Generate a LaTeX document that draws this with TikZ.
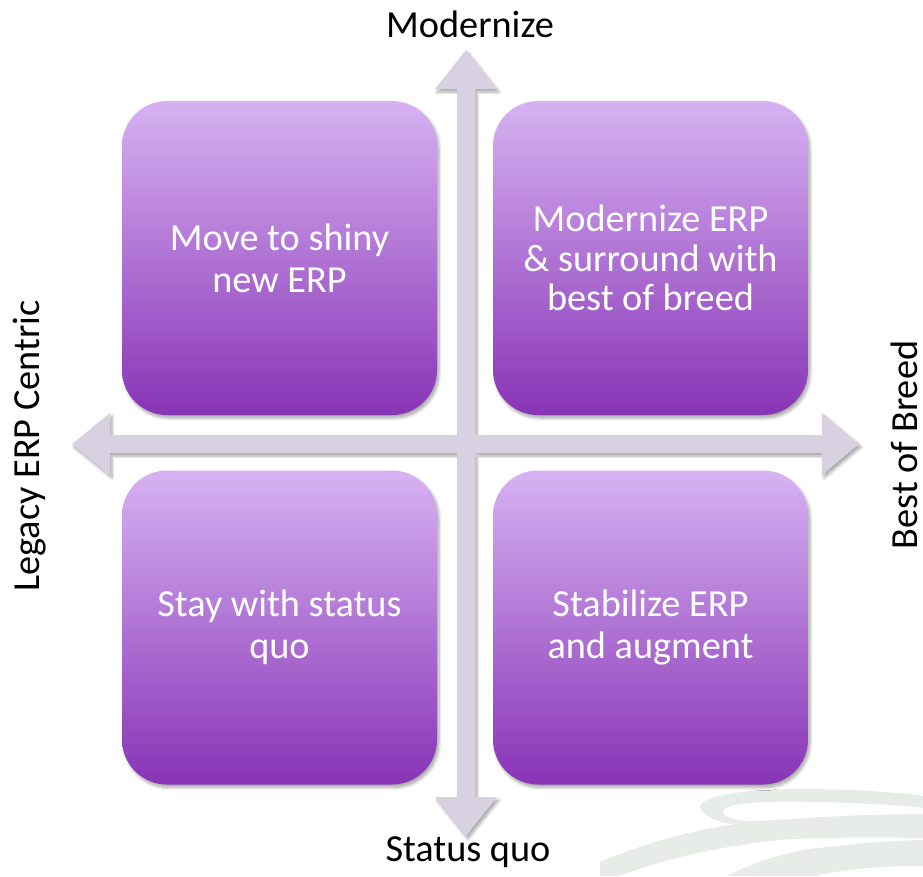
\documentclass[tikz,border=0pt]{standalone}
\usepackage{fontspec}
\setmainfont{Carlito}
\usetikzlibrary{shadows.blur}

\definecolor{quadtop}{RGB}{215,178,242}
\definecolor{quadbot}{RGB}{136,52,182}
\definecolor{axisfill}{RGB}{216,209,225}
\definecolor{swoosh}{RGB}{232,236,232}

\tikzset{
  softshadow/.style={blur shadow={shadow xshift=2pt, shadow yshift=-3pt,
      shadow blur radius=3pt, shadow blur steps=6, shadow opacity=35}},
  quad/.style={rounded corners=45pt, minimum width=315pt, minimum height=314pt,
      inner sep=0pt, top color=quadtop, bottom color=quadbot, text=white,
      align=center, font=\fontsize{38.3}{42}\selectfont, softshadow},
  axislabel/.style={font=\fontsize{38.3}{44}\selectfont, text=black,
      anchor=base, inner sep=0pt},
}

\begin{document}
\begin{tikzpicture}[x=1pt,y=-1pt]
\useasboundingbox (0,0) rectangle (923,876);

% faint logo swoosh in the lower right corner
\fill[swoosh, even odd rule]
  (702,811) .. controls (690,797) and (740,789) .. (800,789)
            .. controls (860,789) and (905,793) .. (923,796)
  -- (923,826) .. controls (860,822) and (790,828) .. (745,826)
            .. controls (725,824) and (710,820) .. (702,811) -- cycle
  (723,812) .. controls (722,802) and (770,801) .. (815,802)
            .. controls (860,803) and (900,805) .. (923,808)
  -- (923,815) .. controls (870,814) and (800,818) .. (760,821)
            .. controls (740,822) and (724,818) .. (723,812) -- cycle;
\fill[swoosh]
  (600,862) .. controls (640,845) and (690,830) .. (737,824)
            .. controls (800,817) and (880,814) .. (923,814)
  -- (923,838) .. controls (860,837) and (800,838) .. (780,840)
            .. controls (720,846) and (660,860) .. (620,876)
  -- (600,876) -- cycle;
\fill[swoosh]
  (727,876) .. controls (750,864) and (790,850) .. (818,848)
            .. controls (860,843) and (900,840) .. (923,840)
  -- (923,866) .. controls (890,866) and (850,868) .. (815,876) -- cycle;

% the two crossing axis arrows
\fill[axisfill, softshadow]
  (466,50) -- (497,89) -- (475,89) -- (475,797) -- (497,797) -- (466,836)
  -- (435,797) -- (457,797) -- (457,89) -- (435,89) -- cycle
  (72,444) -- (110,413) -- (110,435) -- (822,435) -- (822,413) -- (859,444)
  -- (822,475) -- (822,453) -- (110,453) -- (110,475) -- cycle;

% quadrants
\node[quad] (tl) at (279.5,258) {Move to shiny\\new ERP};
\node[quad, font=\fontsize{38.3}{39.5}\selectfont] (tr) at (650.5,258)
  {Modernize ERP\\\& surround with\\best of breed};
\node[quad] (bl) at (279.5,627.5) {Stay with status\\quo};
\node[quad] (br) at (650.5,627.5) {Stabilize ERP\\and augment};

% axis labels
\node[axislabel] (top) at (470,37) {Modernize};
\node[axislabel] (bottom) at (468,861) {Status quo};
\node[axislabel, rotate=90] (left) at (39.5,446) {Legacy ERP Centric};
\node[axislabel, rotate=90] (right) at (917,445) {Best of Breed};
\end{tikzpicture}
\end{document}
